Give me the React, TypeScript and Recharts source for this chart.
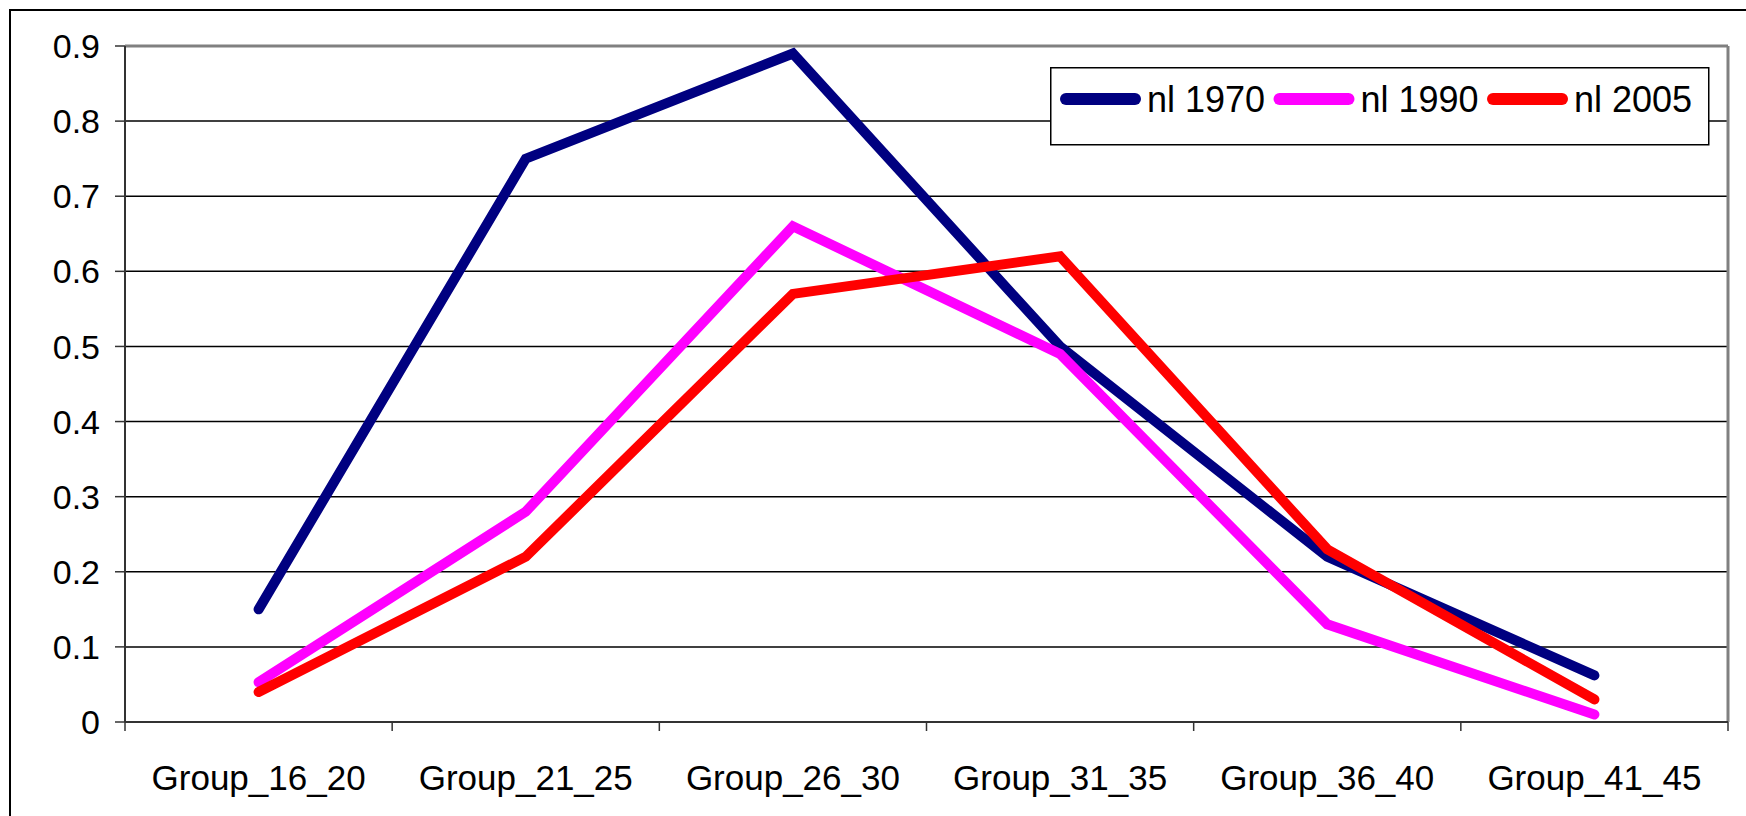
import { LineChart, Line, XAxis, YAxis, CartesianGrid, Legend, ReferenceLine } from "recharts";

const groups = ["Group_16_20", "Group_21_25", "Group_26_30", "Group_31_35", "Group_36_40", "Group_41_45"];
const nl1970 = [0.15, 0.75, 0.89, 0.5, 0.22, 0.062];
const nl1990 = [0.053, 0.28, 0.66, 0.49, 0.13, 0.01];
const nl2005 = [0.04, 0.22, 0.57, 0.62, 0.23, 0.03];
const yTicks = [0, 0.1, 0.2, 0.3, 0.4, 0.5, 0.6, 0.7, 0.8, 0.9];

const series = [
  { key: "nl1970", name: "nl 1970", color: "#000080" },
  { key: "nl1990", name: "nl 1990", color: "#FF00FF" },
  { key: "nl2005", name: "nl 2005", color: "#FF0000" },
];

const rows = groups.map((g, i) => ({ group: g, nl1970: nl1970[i], nl1990: nl1990[i], nl2005: nl2005[i] }));

const FONT = "'Liberation Sans', Arial, sans-serif";
const X_TICK_MARGIN = 43;

// label in the middle of the band, tick mark on the band edges (excel style)
function CategoryTick(props: any) {
  const { x, y, payload, index, visibleTicksCount, width } = props;
  const half = payload?.offset ? payload.offset : width / (2 * visibleTicksCount);
  const axisY = y - X_TICK_MARGIN;
  const last = index === visibleTicksCount - 1;
  return (
    <g>
      <line x1={x - half} x2={x - half} y1={axisY} y2={axisY + 9} stroke="#333" strokeWidth={1.5} />
      {last && <line x1={x + half} x2={x + half} y1={axisY} y2={axisY + 9} stroke="#333" strokeWidth={1.5} />}
      <text x={x} y={y} dy="0.71em" textAnchor="middle" fontSize={35} fontFamily={FONT} fill="#000">
        {payload.value}
      </text>
    </g>
  );
}

// excel-style boxed legend
function BoxLegend({ payload }: any) {
  const items = payload || [];
  return (
    <svg width={660} height={79} style={{ display: "block" }}>
      <rect x={0.75} y={0.75} width={658} height={77} fill="#fff" stroke="#000" strokeWidth={1.5} />
      {items.map((p: any, i: number) => {
        const x0 = 10 + i * 213.5;
        return (
          <g key={p.value}>
            <line x1={x0 + 6} x2={x0 + 75} y1={32} y2={32} stroke={p.color} strokeWidth={12} strokeLinecap="round" />
            <text x={x0 + 87} y={45} fontSize={36} fontFamily={FONT} fill="#000">
              {p.value}
            </text>
          </g>
        );
      })}
    </svg>
  );
}

export default function App() {
  return (
    <div style={{ position: "fixed", left: 0, top: 0, width: 1746, height: 816, overflow: "hidden", background: "#fff" }}>
      <div
        style={{
          position: "absolute",
          left: 9,
          top: 9,
          width: 1800,
          height: 900,
          border: "2px solid #000",
        }}
      />
      <div style={{ position: "absolute", left: 0, top: 0 }}>
        <LineChart width={1746} height={816} data={rows} margin={{ top: 46, right: 18, left: 0, bottom: 0 }}>
          <CartesianGrid vertical={false} stroke="#000" strokeWidth={1.5} />
          {/* grey plot-area frame on the right */}
          <CartesianGrid
            horizontal={false}
            stroke="#808080"
            strokeWidth={3}
            verticalCoordinatesGenerator={({ offset }: any) => [offset.left + offset.width]}
          />
          <XAxis
            dataKey="group"
            scale="band"
            height={94}
            axisLine={{ stroke: "#333", strokeWidth: 2 }}
            tickLine={false}
            tickSize={0}
            tickMargin={X_TICK_MARGIN}
            interval={0}
            tick={<CategoryTick />}
          />
          <YAxis
            width={125}
            domain={[0, 0.9]}
            ticks={yTicks}
            interval={0}
            tickSize={10}
            tickMargin={15}
            axisLine={{ stroke: "#333", strokeWidth: 2 }}
            tickLine={{ stroke: "#333", strokeWidth: 1.5 }}
            tick={{ fontSize: 34, fill: "#000", fontFamily: FONT }}
          />
          <ReferenceLine y={0.9} stroke="#808080" strokeWidth={3} />
          <Legend
            layout="horizontal"
            verticalAlign="middle"
            align="center"
            content={<BoxLegend />}
            wrapperStyle={{ position: "absolute", left: 1050, top: 67, width: 660, height: 79 }}
          />
          {series.map((s) => (
            <Line
              key={s.key}
              dataKey={s.key}
              name={s.name}
              stroke={s.color}
              strokeWidth={10}
              strokeLinecap="round"
              strokeLinejoin="miter"
              dot={false}
              activeDot={false}
              type="linear"
              isAnimationActive={false}
            />
          ))}
        </LineChart>
      </div>
    </div>
  );
}
